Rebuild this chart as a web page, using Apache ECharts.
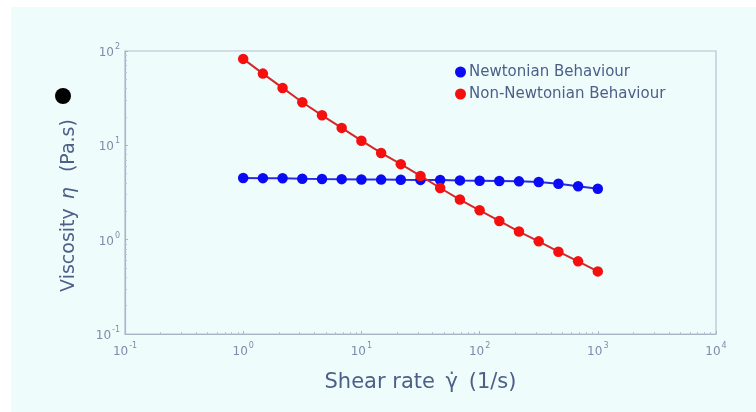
<!DOCTYPE html>
<html>
<head>
<meta charset="utf-8">
<script src="https://cdn.jsdelivr.net/npm/echarts@6/dist/echarts.min.js"></script>
<style>
html,body{margin:0;padding:0;background:#ffffff;}
#chart{width:756px;height:412px;}
</style>
</head>
<body>
<div id="chart"></div>
<script>
// Shear rate (1/s)
var shearRate = [1, 1.468, 2.154, 3.162, 4.642, 6.813, 10, 14.68, 21.54, 31.62, 46.42, 68.13, 100, 146.8, 215.4, 316.2, 464.2, 681.3, 1000];
// Viscosity (Pa.s)
var newtonian = [4.51, 4.49, 4.47, 4.43, 4.40, 4.38, 4.35, 4.33, 4.31, 4.30, 4.29, 4.25, 4.22, 4.19, 4.15, 4.09, 3.92, 3.68, 3.47];
var nonNewtonian = [82.5, 57.6, 40.6, 28.6, 20.8, 15.3, 11.2, 8.30, 6.32, 4.74, 3.53, 2.66, 2.05, 1.58, 1.22, 0.96, 0.746, 0.589, 0.461];
var seriesNames = ['Newtonian Behaviour', 'Non-Newtonian Behaviour'];
// tick label exponents (labels are 10^exp)
var xTickExps = ['-1', '0', '1', '2', '3', '4'];
var yTickExps = ['-1', '0', '1', '2'];

var FONT = 'DejaVu Sans';
var LABEL_C = '#7d8cab';
var NAME_C = '#4d5f88';

function expLabel(exps) {
  return function (v) {
    var e = String(Math.round(Math.log10(v)));
    var idx = exps.indexOf(e);
    return '{b|10}{s|' + (idx >= 0 ? exps[idx] : e) + '}';
  };
}
var richTick = {
  b: {fontSize: 12, fontFamily: FONT, color: LABEL_C, verticalAlign: 'bottom', lineHeight: 16},
  s: {fontSize: 8, fontFamily: FONT, color: LABEL_C, verticalAlign: 'top', lineHeight: 16, padding: [0, 0, 0, 1]}
};

function pairs(xs, ys) {
  return xs.map(function (x, i) { return [x, ys[i]]; });
}

var chart = echarts.init(document.getElementById('chart'));
chart.setOption({
  animation: false,
  backgroundColor: '#ffffff',
  graphic: [
    {type: 'rect', z: -10, shape: {x: 11, y: 7, width: 745, height: 405}, style: {fill: '#effcfc'}, silent: true},
    {type: 'circle', z: 10, shape: {cx: 63, cy: 96, r: 8}, style: {fill: '#000000'}}
  ],
  grid: {left: 125, top: 51, right: 40, bottom: 78, show: true, borderColor: '#b3bfcf', borderWidth: 1.2, backgroundColor: 'transparent'},
  legend: {
    left: 450, top: 58, orient: 'vertical', itemGap: 4,
    icon: 'circle', itemWidth: 11, itemHeight: 11,
    textStyle: {fontFamily: FONT, fontSize: 15, color: NAME_C, lineHeight: 18, padding: [0, 0, 0, -2]},
    data: seriesNames
  },
  xAxis: {
    type: 'log', logBase: 10, min: 0.1, max: 10000,
    name: '{n|Shear rate }{g|γ̇}{n| (1/s)}', nameLocation: 'middle', nameGap: 38,
    nameTextStyle: {rich: {n: {fontFamily: FONT, fontSize: 21, color: NAME_C}, g: {fontFamily: FONT, fontSize: 21, color: NAME_C, padding: [0, 4, 0, 4]}}},
    axisLine: {lineStyle: {color: '#a9b6c8', width: 1.2}},
    axisTick: {show: true, inside: true, length: 3, lineStyle: {color: '#a9b6c8'}},
    minorTick: {show: true, splitNumber: 9, length: 2, lineStyle: {color: '#b8c3d3'}},
    splitLine: {show: false},
    axisLabel: {margin: 8, formatter: expLabel(xTickExps), rich: richTick}
  },
  yAxis: {
    type: 'log', logBase: 10, min: 0.1, max: 100,
    name: '{n|Viscosity }{i|η}{n|  (Pa.s)}{p|}', nameLocation: 'middle', nameGap: 46, nameRotate: 90,
    nameTextStyle: {rich: {
      n: {fontFamily: FONT, fontSize: 19, color: NAME_C},
      i: {fontFamily: FONT, fontSize: 19, fontStyle: 'italic', color: NAME_C, padding: [0, 3, 0, 3]},
      p: {width: 26}
    }},
    axisLine: {show: true, lineStyle: {color: '#a9b6c8', width: 1.2}},
    axisTick: {show: true, inside: true, length: 3, lineStyle: {color: '#a9b6c8'}},
    minorTick: {show: true, splitNumber: 9, length: 2, lineStyle: {color: '#b8c3d3'}},
    splitLine: {show: false},
    axisLabel: {margin: 5, formatter: expLabel(yTickExps), rich: richTick}
  },
  series: [
    {
      name: seriesNames[0], type: 'line', data: pairs(shearRate, newtonian),
      symbol: 'circle', symbolSize: 10.5,
      itemStyle: {color: '#0a0af5'}, lineStyle: {color: '#2a2ae0', width: 2}, z: 3
    },
    {
      name: seriesNames[1], type: 'line', data: pairs(shearRate, nonNewtonian),
      symbol: 'circle', symbolSize: 10.5,
      itemStyle: {color: '#f51010'}, lineStyle: {color: '#d52828', width: 2}, z: 4
    }
  ]
});
</script>
</body>
</html>
